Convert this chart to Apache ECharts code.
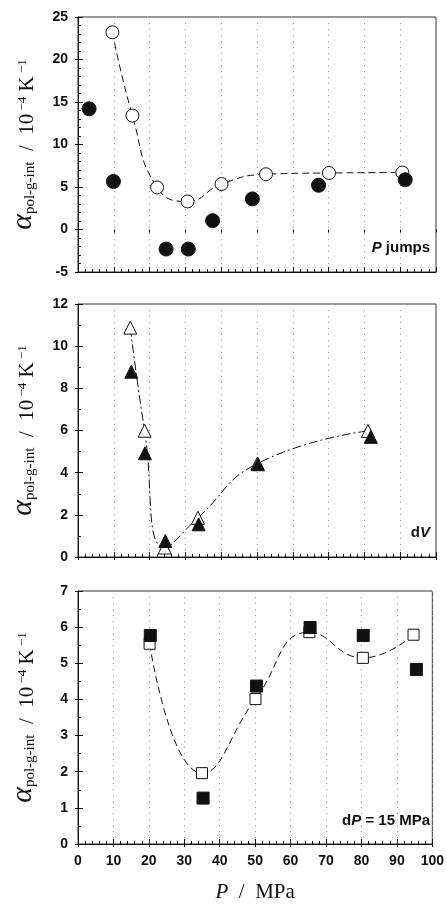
<!DOCTYPE html>
<html>
<head>
<meta charset="UTF-8">
<title></title>
<script src="https://cdn.jsdelivr.net/npm/echarts@6/dist/echarts.min.js"></script>
<style>
html, body { margin: 0; padding: 0; background: #fff; }
#chart { width: 447px; height: 904px; }
</style>
</head>
<body>
<div id="chart"></div>
<script>
// P jumps panel
var jumpOpenP = [9.6, 15.2, 22.1, 30.6, 40.1, 52.5, 70.1, 90.6];
var jumpOpenA = [23.2, 13.4, 4.95, 3.3, 5.35, 6.5, 6.65, 6.7];
var jumpFillP = [3.1, 9.9, 24.6, 30.8, 37.6, 48.7, 67.2, 91.4];
var jumpFillA = [14.2, 5.65, -2.3, -2.3, 1.04, 3.6, 5.2, 5.85];
// dV panel
var dvOpenP = [14.6, 18.6, 24.2, 33.5, 50.1, 81.0];
var dvOpenA = [10.88, 5.99, 0.45, 1.86, 4.43, 5.98];
var dvFillP = [14.9, 18.7, 24.4, 33.7, 50.3, 81.8];
var dvFillA = [8.79, 4.92, 0.76, 1.55, 4.4, 5.7];
// dP = 15 MPa panel
var dpOpenP = [20.2, 35.0, 50.1, 65.3, 80.4, 94.7];
var dpOpenA = [5.54, 1.96, 4.01, 5.86, 5.15, 5.79];
var dpFillP = [20.4, 35.3, 50.4, 65.5, 80.5, 95.5];
var dpFillA = [5.77, 1.27, 4.37, 5.99, 5.77, 4.83];
// axis ranges
var yMins = [-5, 0, 0];
var yMaxs = [25, 12, 7];
var yIntervals = [5, 2, 1];
var panelLabels = ['{b|P}{r| jumps}', '{r|d}{b|V}', '{r|d}{b|P}{r| = 15 MPa}'];

function pairs(xs, ys) {
  var out = [];
  for (var i = 0; i < xs.length; i++) out.push([xs[i], ys[i]]);
  return out;
}

var chart = echarts.init(document.getElementById('chart'));

var gridTops = [17, 304, 591];
var gridHeights = [255, 253, 254];
var grids = [], xAxes = [], yAxes = [], graphics = [];
var serif = 'Liberation Serif';
var sans = 'Liberation Sans';

var yName = '{a|α}{s|pol-g-int}{n|  /  10}{p| −4}{n| K}{p| −1}';
var yRich = {
  a: { fontFamily: serif, fontStyle: 'italic', fontSize: 30, color: '#111', verticalAlign: 'bottom' },
  s: { fontFamily: serif, fontSize: 15, color: '#111', verticalAlign: 'bottom' },
  n: { fontFamily: serif, fontSize: 21, color: '#111', verticalAlign: 'bottom' },
  p: { fontFamily: serif, fontSize: 13, color: '#111', verticalAlign: 'bottom', padding: [0, 0, 9, 0] }
};

for (var g = 0; g < 3; g++) {
  grids.push({
    left: 78, width: 358, top: gridTops[g], height: gridHeights[g],
    show: true, borderColor: '#333', borderWidth: 1, backgroundColor: 'transparent'
  });
  xAxes.push({
    type: 'value', gridIndex: g, min: 0, max: 100, interval: 10, position: 'bottom',
    axisLine: { show: true, onZero: false, lineStyle: { color: '#111', width: 1 } },
    axisTick: { show: true, inside: true, length: 5, lineStyle: { color: '#111' } },
    minorTick: { show: true, splitNumber: 5, length: 3, lineStyle: { color: '#111' } },
    splitLine: { show: true, lineStyle: { color: '#999', type: [1, 5], width: 1 } },
    axisLabel: {
      show: g === 2, margin: 10, color: '#111',
      fontFamily: sans, fontWeight: 'bold', fontSize: 14
    },
    name: g === 2 ? '{i|P}{n|  /  MPa}' : '',
    nameLocation: 'middle', nameGap: 38,
    nameTextStyle: {
      rich: {
        i: { fontFamily: serif, fontStyle: 'italic', fontSize: 21, color: '#111' },
        n: { fontFamily: serif, fontSize: 21, color: '#111' }
      }
    }
  });
  yAxes.push({
    type: 'value', gridIndex: g, min: yMins[g], max: yMaxs[g], interval: yIntervals[g], position: 'left',
    axisLine: { show: true, lineStyle: { color: '#111', width: 1 } },
    axisTick: { show: true, inside: true, length: 5, lineStyle: { color: '#111' } },
    minorTick: { show: true, splitNumber: g === 0 ? 5 : 2, length: 3, lineStyle: { color: '#111' } },
    splitLine: { show: false },
    axisLabel: {
      margin: 10, color: '#111',
      fontFamily: sans, fontWeight: 'bold', fontSize: 14
    },
    name: yName, nameLocation: 'middle', nameGap: 40,
    nameTextStyle: { rich: yRich }
  });
  graphics.push({
    type: 'text', right: 17, top: gridTops[g] + gridHeights[g] - 32,
    style: {
      text: panelLabels[g],
      rich: {
        b: { fontFamily: sans, fontWeight: 'bold', fontStyle: 'italic', fontSize: 15, fill: '#111' },
        r: { fontFamily: sans, fontWeight: 'bold', fontSize: 15, fill: '#111' }
      }
    }
  });
}
// outer half of the major ticks (they cross the axis line)
for (var h = 0; h < 3; h++) {
  xAxes.push({
    type: 'value', gridIndex: h, min: 0, max: 100, interval: 10, position: 'bottom', offset: 0,
    axisLine: { show: false }, axisLabel: { show: false }, splitLine: { show: false },
    axisTick: { show: true, inside: false, length: 3, lineStyle: { color: '#111' } }
  });
  yAxes.push({
    type: 'value', gridIndex: h, min: yMins[h], max: yMaxs[h], interval: yIntervals[h], position: 'left', offset: 0,
    axisLine: { show: false }, axisLabel: { show: false }, splitLine: { show: false },
    axisTick: { show: true, inside: false, length: 3, lineStyle: { color: '#111' } }
  });
}

var openStyle = { color: '#fff', borderColor: '#111', borderWidth: 1, opacity: 1 };
var fillStyle = { color: '#111', borderColor: '#111', borderWidth: 1, opacity: 1 };

function curve(idx, data, symbol, size, dash) {
  return {
    type: 'line', xAxisIndex: idx, yAxisIndex: idx, data: data,
    smooth: 0.5, symbol: symbol, symbolSize: size, showSymbol: true,
    itemStyle: openStyle,
    lineStyle: { color: '#111', width: 1, type: dash },
    z: 2, animation: false
  };
}
function dots(idx, data, symbol, size) {
  return {
    type: 'scatter', xAxisIndex: idx, yAxisIndex: idx, data: data,
    symbol: symbol, symbolSize: size, itemStyle: fillStyle,
    z: 3, animation: false
  };
}

var option = {
  backgroundColor: '#fff',
  animation: false,
  grid: grids,
  xAxis: xAxes,
  yAxis: yAxes,
  graphic: graphics,
  series: [
    curve(0, pairs(jumpOpenP, jumpOpenA), 'circle', 13, [7, 4]),
    dots(0, pairs(jumpFillP, jumpFillA), 'circle', 14),
    curve(1, pairs(dvOpenP, dvOpenA), 'triangle', 13, [9, 3, 2, 3]),
    dots(1, pairs(dvFillP, dvFillA), 'triangle', 13),
    curve(2, pairs(dpOpenP, dpOpenA), 'rect', 11, [7, 4]),
    dots(2, pairs(dpFillP, dpFillA), 'rect', 12)
  ]
};
chart.setOption(option);
</script>
</body>
</html>
